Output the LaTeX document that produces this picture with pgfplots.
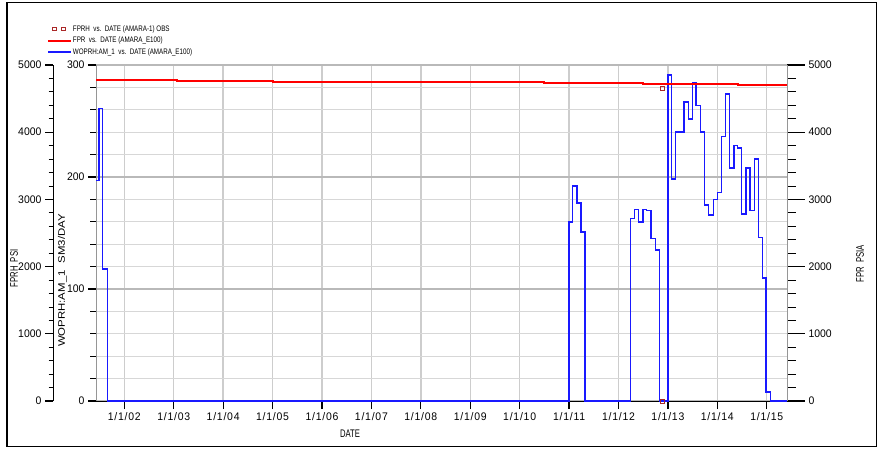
\documentclass[border=0pt]{standalone}
\usepackage{fontspec}
\setmainfont{Liberation Sans}
\newfontfamily\lblfont[FakeStretch=0.7]{Liberation Sans}
\newfontfamily\tickfont[FakeStretch=0.95]{Liberation Sans}
\newfontfamily\xtickfont[FakeStretch=0.95, LetterSpace=7]{Liberation Sans}
\newfontfamily\wfont[FakeStretch=1.2]{Liberation Sans}
\newfontfamily\legfont[FakeStretch=0.78]{Liberation Sans}
\usepackage{pgfplots}
\usepackage{pgfplotstable}
\pgfplotsset{compat=1.18}
\definecolor{obsred}{RGB}{170,40,40}
\definecolor{wblue}{RGB}{25,25,255}
\definecolor{gridmaj}{RGB}{185,185,185}
\definecolor{gridmin}{RGB}{215,215,215}
\definecolor{gridx}{RGB}{205,205,205}
\definecolor{axgray}{RGB}{150,150,150}

\pgfplotstableread{
x v
2001.427 197
2001.488 261
2001.563 118
2001.664 0
2011.000 160
2011.065 192
2011.160 177
2011.241 151
2011.322 0
2012.239 163
2012.328 171
2012.409 160
2012.496 171
2012.571 170
2012.658 145
2012.753 135
2012.826 0
2013.000 291
2013.077 198
2013.158 240
2013.326 267
2013.412 252
2013.493 284
2013.568 264
2013.655 240
2013.744 175
2013.825 166
2013.918 180
2013.999 186
2014.080 236
2014.169 274
2014.250 208
2014.337 228
2014.404 226
2014.493 167
2014.580 208
2014.661 170
2014.748 216
2014.829 146
2014.918 110
2014.985 8
2015.080 0
2015.410 0
}\woprtable

\pgfplotstableread{
x v
2001.427 4777
2003.070 4766
2005.005 4751
2010.500 4737
2012.495 4717
2014.410 4702
2015.410 4702
}\fprtable

\pgfplotstableread{
x v
2012.89 4653
2012.89 0
}\obstable

\pgfplotsset{
  every axis/.append style={
    scale only axis,
    height=336pt,
    anchor=south west,
    ymin=0,
    tick align=outside,
    tick label style={font=\tickfont\fontsize{11}{12}\selectfont},
    /pgf/number format/assume math mode=true,
    /pgf/number format/1000 sep={},
    scaled y ticks=false,
    tick style={black},
    major tick style={line width=1.2pt},
    minor tick style={line width=0.8pt},
  }
}

\begin{document}
\begin{tikzpicture}[x=1pt,y=1pt]
\useasboundingbox (0,0) rectangle (878,448);

% main axis: WOPRH (0-300), grid, dates
\begin{axis}[
  at={(96pt,47pt)}, width=691pt,
  xmin=2001.427, xmax=2015.41, ymax=300,
  axis x line*=bottom, axis y line*=left,
  xtick={2002,2003,2004,2005,2006,2007,2008,2009,2010,2011,2012,2013,2014,2015},
  xticklabels={1/1/02,1/1/03,1/1/04,1/1/05,1/1/06,1/1/07,1/1/08,1/1/09,1/1/10,1/1/11,1/1/12,1/1/13,1/1/14,1/1/15},
  xticklabel style={font=\xtickfont\fontsize{11}{12}\selectfont},
  ytick={0,100,200,300}, minor y tick num=4,
  xmajorgrids, ymajorgrids, yminorgrids,
  major x grid style={gridx, line width=1.4pt},
  major y grid style={gridmaj, line width=1.1pt},
  minor y grid style={gridmin, line width=0.9pt},
  major tick length=8pt, minor tick length=6pt,
  x axis line style={black, line width=1pt},
  y axis line style={axgray, line width=0.8pt},
]
\addplot[const plot, wblue, line width=1.5pt] table[x=x, y=v] {\woprtable};
\end{axis}

% right axis: FPR (0-5000)
\begin{axis}[
  at={(96pt,47pt)}, width=691pt,
  xmin=2001.427, xmax=2015.41, ymax=5000,
  axis y line*=right, axis x line=none,
  ytick={0,1000,2000,3000,4000,5000}, minor y tick num=4,
  major tick length=18pt, minor tick length=9pt,
  y axis line style={axgray, line width=0.8pt},
]
\addplot[const plot, red, line width=2pt] table[x=x, y=v] {\fprtable};
\end{axis}

% outer left axis: FPRH (0-5000), same date scale
\begin{axis}[
  at={(53pt,47pt)}, width=734pt,
  xmin=2000.5569, xmax=2015.41, ymax=5000,
  axis y line*=left, axis x line=none,
  ytick={0,1000,2000,3000,4000,5000}, minor y tick num=4,
  major tick length=8pt, minor tick length=4.5pt,
  y axis line style={black, line width=0.8pt},
  legend style={at={(axis description cs:-0.0082,1.122)}, anchor=north west,
    draw=none, fill=none, inner sep=0pt, row sep=2pt,
    font=\legfont\fontsize{8}{8}\selectfont,
    nodes={inner sep=0.8pt, text height=6pt, text depth=2pt}},
  legend cell align=left,
  legend image code/.code={\draw[#1] (0pt,0pt) -- (23pt,0pt);},
]
\addplot[only marks, mark=square, mark size=2pt, obsred, mark options={line width=0.7pt},
  legend image code/.code={
    \draw[draw=obsred, line width=0.6pt] (4.25pt,-1.75pt) rectangle ++(3.5pt,3.5pt);
    \draw[draw=obsred, line width=0.6pt] (13.25pt,-1.75pt) rectangle ++(3.5pt,3.5pt);
    \path[draw=none] (0pt,0pt) -- (23pt,0pt);}]
  table[x=x, y=v] {\obstable};
\addlegendentry{FPRH\ \ vs.\ \ DATE (AMARA-1) OBS}
\addlegendimage{red, line width=2pt}
\addlegendentry{FPR\ \ vs.\ \ DATE (AMARA\_E100)}
\addlegendimage{wblue, line width=1.5pt}
\addlegendentry{WOPRH:AM\_1\ \ vs.\ \ DATE (AMARA\_E100)}
\end{axis}

% axis titles
\node[rotate=90, font=\lblfont\fontsize{11}{12}\selectfont] at (14,179.5) {FPRH\ \ PSI};
\node[rotate=90, font=\wfont\fontsize{9.5}{10}\selectfont] at (62.5,167.5) {WOPRH:AM\_1\hspace{7pt}SM3/DAY};
\node[rotate=90, font=\lblfont\fontsize{11}{12}\selectfont] at (860,184.5) {FPR\ \ PSIA};
\node[font=\lblfont\fontsize{11}{12}\selectfont] at (350,14) {DATE};

% outer frame
\draw[black, line width=1.3pt] (7,1.5) rectangle (876.5,445.5);
\end{tikzpicture}
\end{document}
